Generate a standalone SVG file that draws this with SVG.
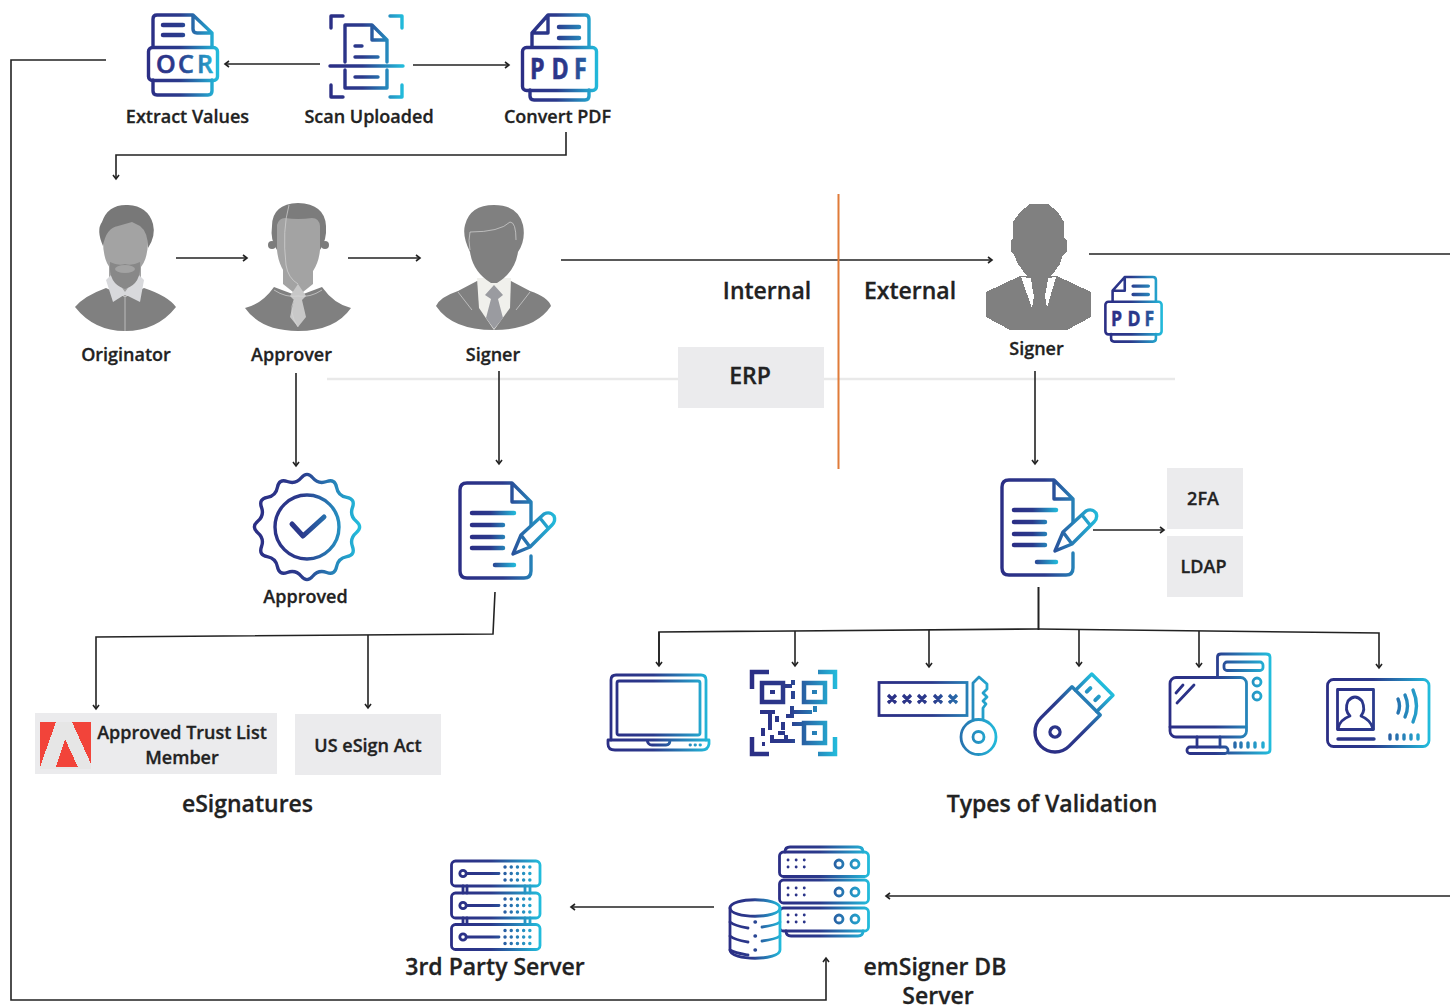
<svg xmlns="http://www.w3.org/2000/svg" width="1450" height="1008" viewBox="0 0 1450 1008">
<style>
text{font-family:"Open Sans","Liberation Sans",sans-serif;font-weight:600;fill:#222;stroke:#222;stroke-width:.3;text-anchor:middle}
.s{font-size:18px}.m{font-size:23px}.b{font-size:18px}
.c{fill:none;stroke:#222;stroke-width:1.600}
.i{fill:none;stroke-width:3.400;stroke-linecap:round;stroke-linejoin:round}
.t{fill:none;stroke-width:2.800;stroke-linecap:round;stroke-linejoin:round}
.box{fill:#ebebed}
.g{fill:#808080}.f{fill:#a3a3a3}.w{fill:none;stroke:#d5d5d5;stroke-width:.7}
.icontext{font-weight:700;text-anchor:start;stroke-width:.6}
</style>
<defs>
<linearGradient id="gb"><stop offset="0" stop-color="#2b2e85"/><stop offset=".45" stop-color="#2b3a8c"/><stop offset="1" stop-color="#22bcdc"/></linearGradient>
<linearGradient id="g0" href="#gb" gradientUnits="userSpaceOnUse" x1="148" x2="218" y1="0" y2="0"/>
<linearGradient id="g1" href="#gb" gradientUnits="userSpaceOnUse" x1="329" x2="403" y1="0" y2="0"/>
<linearGradient id="g2" href="#gb" gradientUnits="userSpaceOnUse" x1="522" x2="598" y1="0" y2="0"/>
<linearGradient id="gp" href="#gb" gradientUnits="userSpaceOnUse" x1="-10" x2="120" y1="0" y2="0"/>
<linearGradient id="g3" href="#gb" gradientUnits="userSpaceOnUse" x1="-52" x2="52" y1="0" y2="0"/>
<linearGradient id="g4" href="#gb" gradientUnits="userSpaceOnUse" x1="459" x2="556" y1="0" y2="0"/>
<linearGradient id="gl" href="#gb" gradientUnits="userSpaceOnUse" x1="470" x2="516" y1="0" y2="0"/>
<linearGradient id="g5" href="#gb" gradientUnits="userSpaceOnUse" x1="607" x2="710" y1="0" y2="0"/>
<linearGradient id="g6" href="#gb" gradientUnits="userSpaceOnUse" x1="750" x2="837" y1="0" y2="0"/>
<linearGradient id="g7" href="#gb" gradientUnits="userSpaceOnUse" x1="878" x2="998" y1="0" y2="0"/>
<linearGradient id="g8" href="#gb" gradientUnits="userSpaceOnUse" x1="-20" x2="67" y1="0" y2="0"/>
<linearGradient id="g9" href="#gb" gradientUnits="userSpaceOnUse" x1="1170" x2="1270" y1="0" y2="0"/>
<linearGradient id="g10" href="#gb" gradientUnits="userSpaceOnUse" x1="1327" x2="1429" y1="0" y2="0"/>
<linearGradient id="g11" href="#gb" gradientUnits="userSpaceOnUse" x1="451" x2="540" y1="0" y2="0"/>
<linearGradient id="g12" href="#gb" gradientUnits="userSpaceOnUse" x1="779" x2="869" y1="0" y2="0"/>
<linearGradient id="g13" href="#gb" gradientUnits="userSpaceOnUse" x1="729" x2="781" y1="0" y2="0"/>
<marker id="a" viewBox="-6 -5 8 10" refX="0" refY="0" markerWidth="8" markerHeight="10" markerUnits="userSpaceOnUse" orient="auto"><path d="M-4,-3 L0,0 L-4,3" fill="none" stroke="#222" stroke-width="1.600"/></marker>
<g id="pdfIcon">
<path class="i" stroke="url(#g2)" d="M532,47 V33 L548,15 H585 Q589,15 589,19 V47 M548,15 V33 H532 M530,90 V96 Q530,100 534,100 H585 Q589,100 589,96 V90"/>
<rect class="i" stroke="url(#g2)" x="522.500" y="47.500" width="74" height="43" rx="4"/>
<path class="i" stroke="url(#g2)" style="stroke-width:4.500" d="M559,27 H579 M559,38 H579"/>
<text class="icontext" transform="translate(530,79) scale(.8,1)" x="0 27 55" y="0" style="font-size:29px;fill:url(#gp);stroke:url(#gp)">PDF</text>
</g>
<g id="signIcon">
<path class="i" stroke="url(#g4)" d="M512,483 H467 Q460,483 460,490 V571 Q460,578 467,578 H524 Q531,578 531,571 V556 M531,525 V502 L512,483 V502 H531"/>
<path class="i" stroke="url(#gl)" style="stroke-width:4.500" d="M472,513 H514 M472,525 H503 M472,537 H503 M472,548 H503 M495,565 H514"/>
<path class="i" stroke="url(#g4)" d="M513,554 L521,535 L544,514 Q550,511 554,516 Q556,521 552,525 L530,547 Z M521,535 L530,547 M540,518 L548,528"/>
</g>
</defs>

<g id="connectors">
<path class="c" d="M106,60 H11 V1000 H826 V958" marker-end="url(#a)"/>
<path class="c" d="M320,64 H225" marker-end="url(#a)"/>
<path class="c" d="M413,65 H509" marker-end="url(#a)"/>
<path class="c" d="M566,132 V155 H116 V179" marker-end="url(#a)"/>
<path class="c" d="M176,258 H247" marker-end="url(#a)"/>
<path class="c" d="M348,258 H420" marker-end="url(#a)"/>
<path class="c" d="M561,260 H992" marker-end="url(#a)"/>
<path class="c" d="M1089,254 H1450"/>
<path d="M327,379 H678 M824,379 H1175" fill="none" stroke="#e9e9e9" stroke-width="2.500"/>
<path d="M838.500,194 V469" fill="none" stroke="#e07b39" stroke-width="2"/>
<path class="c" d="M296,373 V466" marker-end="url(#a)"/>
<path class="c" d="M499,371 V464" marker-end="url(#a)"/>
<path class="c" d="M1035,371 V464" marker-end="url(#a)"/>
<path class="c" d="M1093,530 H1164" marker-end="url(#a)"/>
<path class="c" d="M1038.500,587 V630" style="stroke-width:2"/>
<path class="c" d="M659,666 V632 L1038,629 L1379,633 V668" marker-end="url(#a)"/>
<path class="c" d="M659,632 V666" marker-end="url(#a)"/>
<path class="c" d="M795,631 V666" marker-end="url(#a)"/>
<path class="c" d="M929,630 V667" marker-end="url(#a)"/>
<path class="c" d="M1079,630 V666" marker-end="url(#a)"/>
<path class="c" d="M1199,631 V667" marker-end="url(#a)"/>
<path class="c" d="M495,592 L493,634 L96,637 V709" marker-end="url(#a)"/>
<path class="c" d="M368,635 V708" marker-end="url(#a)"/>
<path class="c" d="M714,907 H571" marker-end="url(#a)"/>
<path class="c" d="M1450,896 H886" marker-end="url(#a)"/>
</g>

<g id="extract-values">
<path class="i" stroke="url(#g0)" d="M153,47 V19 Q153,15 157,15 H193 L212,33 V47 M193,15 V29 Q193,33 197,33 H212 M153,80 V91 Q153,95 157,95 H208 Q212,95 212,91 V80"/>
<rect class="i" stroke="url(#g0)" x="148.500" y="47.500" width="69" height="33" rx="4"/>
<path class="i" stroke="url(#g0)" style="stroke-width:4.500" d="M163,25 H183 M163,35 H183"/>
<text class="icontext" x="156 178 197" y="73" style="font-size:25px;font-weight:600;fill:url(#g0);stroke:url(#g0)">OCR</text>
<text class="s" x="187.500" y="123">Extract Values</text>
</g>
<g id="scan-uploaded">
<path class="i" stroke="url(#g1)" d="M331,28 V16 H343 M390,16 H402 V28 M331,85 V97 H343 M390,97 H402 V85"/>
<path class="i" stroke="url(#g1)" d="M345,62 V25 H372 L387,40 V62 M345,70 V88 H387 V70 M372,25 V40 H387"/>
<path class="i" stroke="url(#g1)" d="M330,66 H403 M355,46 H362 M355,57 H378 M355,77 H378"/>
<text class="s" x="369" y="123">Scan Uploaded</text>
</g>
<g id="convert-pdf">
<use href="#pdfIcon"/>
<text class="s" x="557.500" y="123">Convert PDF</text>
</g>

<g id="originator">
<path class="g" d="M75,307 Q84,296 106,288 L125,297 L144,288 Q168,296 176,307 Q157,331 125,331 Q94,331 75,307 Z"/>
<path class="f" d="M109,258 V282 L125,297 L141,282 V258 Z"/>
<path d="M106,280 L112,274 L125,292 L138,274 L144,280 L140,302 L126,295 L124,295 L113,302 Z" fill="#d8d9dc"/>
<path class="f" d="M103,240 Q102,222 125,220 Q148,222 148,240 Q148,262 138,270 H112 Q103,262 103,240 Z"/>
<path fill="#888" d="M110,262 Q118,266 125,264 Q132,266 140,262 Q142,284 125,289 Q108,284 110,262 Z"/>
<ellipse cx="125" cy="269" rx="10" ry="4" fill="#a3a3a3"/>
<path fill="#787878" d="M103,246 Q96,230 102,222 Q108,204 128,205 Q148,206 153,224 Q156,236 148,248 Q148,232 140,226 L132,222 L118,226 Q106,228 103,246 Z"/>
<path class="w" d="M125,297 V331"/>
<text class="s" x="126" y="361">Originator</text>
</g>
<g id="approver">
<path class="g" d="M245,308 Q262,304 274,287 L298,296 L322,287 Q334,304 351,308 Q335,331 298,331 Q261,331 245,308 Z"/>
<path class="f" d="M283,262 V284 L298,296 L313,284 V262 Z"/>
<path fill="#7c7c7c" d="M277,250 Q270,240 272,226 Q272,204 298,203 Q325,204 326,226 Q327,240 320,250 Z"/>
<circle fill="#7c7c7c" cx="272" cy="245" r="4"/><circle fill="#7c7c7c" cx="325" cy="245" r="4"/>
<path class="f" d="M277,225 Q279,218 285,218 Q298,220 312,218 Q319,218 320,226 V250 Q318,272 300,284 H296 Q279,272 277,250 Z"/>
<path fill="#c8c8c8" d="M298,284 L306,296 L302,300 L306,317 L298,327 L290,317 L294,300 L290,296 Z"/>
<path class="w" d="M289,205 Q282,230 286,265 Q288,278 298,284 M274,290 Q286,298 298,296 Q310,298 322,290 M294,300 Q288,312 298,327"/>
<text class="s" x="291.500" y="361">Approver</text>
</g>
<g id="signer">
<path class="g" d="M436,306 Q440,297 458,291 L477,281 H511 L530,291 Q548,297 551,306 Q535,330 494,330 Q452,330 436,306 Z"/>
<path d="M477,278 H511 L510,308 L494,330 L479,308 Z" fill="#f0f0ec"/>
<path fill="#9a9ba0" d="M494,285 L503,295 L498,299 L503,318 L494,329 L486,318 L491,299 L485,295 Z"/>
<path class="g" d="M470,252 Q462,236 465,225 Q470,205 494,205 Q518,205 523,225 Q526,240 518,252 Q515,272 497,283 H491 Q473,272 470,252 Z"/>
<path class="w" d="M470,232 Q500,232 510,222 Q516,222 516,240 M470,232 Q468,240 470,250 M472,310 L458,292 M516,310 L530,292"/>
<text class="s" x="493" y="361">Signer</text>
</g>
<g id="external-signer" shape-rendering="crispEdges">
<path class="g" d="M1013,222 L1020,212 L1030,204 H1048 L1058,212 L1064,222 V238 L1067,241 V252 L1063,255 L1060,264 L1052,275 L1045,279 H1033 L1026,275 L1018,264 L1014,255 L1011,252 V241 L1013,238 Z"/>
<path class="g" d="M986,292 L1020,276 H1057 L1091,292 V317 L1067,330 H1010 L986,317 Z"/>
<path d="M1021,277 L1032,308 L1034,296 L1032,286 L1031,278 Z M1056,277 L1047,308 L1045,296 L1047,286 L1048,278 Z" fill="#fff"/>
<text class="s" x="1036.500" y="355">Signer</text>
</g>
<g id="external-pdf"><use href="#pdfIcon" transform="translate(1105,277) scale(.76) translate(-522,-15)"/></g>

<text class="m" x="767" y="299">Internal</text>
<text class="m" x="910" y="299">External</text>
<g id="erp"><rect class="box" x="678" y="347" width="146" height="61"/><text class="m" x="750" y="384">ERP</text></g>

<g id="approved">
<g transform="translate(307,527)">
<path class="i" stroke="url(#g3)" d="M49.250,-5.700 Q56,0 49.250,5.700 T45.500,19.700 T39.800,29.550 T29.550,39.800 T19.700,45.500 T5.700,49.250 T-5.700,49.250 T-19.700,45.500 T-29.550,39.800 T-39.800,29.550 T-45.500,19.700 T-49.250,5.700 T-49.250,-5.700 T-45.500,-19.700 T-39.800,-29.550 T-29.550,-39.800 T-19.700,-45.500 T-5.700,-49.250 T5.700,-49.250 T19.700,-45.500 T29.550,-39.800 T39.800,-29.550 T45.500,-19.700 T49.250,-5.700 Z"/>
<circle class="i" stroke="url(#g3)" r="32"/>
<path class="i" stroke="url(#g3)" style="stroke-width:5" d="M-15,-3 L-4,9 L17,-10"/>
</g>
<text class="s" x="305.500" y="603">Approved</text>
</g>
<g id="sign-internal"><use href="#signIcon"/></g>
<g id="sign-external"><use href="#signIcon" transform="translate(542,-3)"/></g>
<g id="twofa"><rect class="box" x="1167" y="468" width="76" height="61"/><text class="b" x="1203" y="505">2FA</text></g>
<g id="ldap"><rect class="box" x="1167" y="536" width="76" height="61"/><text class="b" x="1203.500" y="573">LDAP</text></g>

<g id="trust-list">
<rect class="box" x="35" y="713" width="242" height="61"/>
<g shape-rendering="crispEdges">
<rect x="40" y="722" width="51" height="47" fill="#e6e6e6"/>
<path fill="#f2443a" d="M40,722 H56 L40,767 Z M72,722 H91 V764 Z M65,739 L78,767 H56 Z"/>
</g>
<text class="s" x="182" y="739">Approved Trust List</text>
<text class="s" x="182" y="764">Member</text>
</g>
<g id="us-esign"><rect class="box" x="295" y="714" width="146" height="61"/><text class="s" x="368" y="752">US eSign Act</text></g>
<text class="m" x="247.500" y="812">eSignatures</text>

<g id="laptop">
<path class="t" stroke="url(#g5)" d="M611,740 V680 Q611,675 616,675 H701 Q706,675 706,680 V740"/>
<rect class="t" stroke="url(#g5)" x="617" y="681" width="83" height="54" rx="2"/>
<path class="t" stroke="url(#g5)" d="M608,740 H709 V744 Q708,750 702,750 H615 Q608,750 608,744 Z M647,740 Q648,745 652,745 H666 Q670,745 670,740"/>
<path class="t" stroke="url(#g5)" d="M690,745 H690.500 M695,745 H695.500 M700,745 H700.500"/>
</g>
<g id="qr">
<path fill="none" stroke="url(#g6)" stroke-width="4.500" d="M769,672 H752 V689 M818,672 H835 V689 M752,737 V754 H769 M835,737 V754 H818"/>
<path fill="none" stroke="url(#g6)" stroke-width="4.500" d="M762,683 H783 V702 H762 Z M804,683 H825 V702 H804 Z M804,723 H825 V743 H804 Z"/>
<path fill="none" stroke="url(#g6)" stroke-width="4" d="M770,692 H775 M812,692 H817 M812,733 H817 M785,686 H792 M793,680 V685 M793,691 V699 M792,706 V712 H812 M815,706 V712 M760,712 H775 M770,712 V730 M763,728 V736 M777,716 V722 M783,722 V730 M786,716 H794 M792,724 H804 M772,735 V741 H795 M762,744 H765 M786,735 V741 M803,712 H807 M778,733 H785"/>
</g>
<g id="password-key">
<rect x="879" y="682.500" width="88" height="33" fill="none" stroke="url(#g7)" stroke-width="2.800"/>
<path fill="none" stroke="url(#g7)" stroke-width="3.200" d="M888,695 L896,703 M896,695 L888,703 M903,695 L911,703 M911,695 L903,703 M918,695 L926,703 M926,695 L918,703 M934,695 L942,703 M942,695 L934,703 M949,695 L957,703 M957,695 L949,703"/>
<path class="t" stroke="url(#g7)" d="M973,719 V683 L979,677 L987,684 V689 L983,693 L987,697 L983,701 L986,704 L983,708 V719"/>
<circle class="t" stroke="url(#g7)" cx="978.500" cy="737" r="17.500"/>
<circle class="t" stroke="url(#g7)" cx="978.500" cy="737" r="5.500"/>
</g>
<g id="usb" transform="translate(1055,732) rotate(-45)">
<path class="i" stroke="url(#g8)" d="M44,-20 H0 A20,20 0 0 0 0,20 H44 Z"/>
<path class="i" stroke="url(#g8)" d="M44,-15 H67 V15 H44"/>
<circle class="i" stroke="url(#g8)" r="5"/>
<path class="i" stroke="url(#g8)" d="M51,-6 H56 M51,6 H56" style="stroke-width:4"/>
</g>
<g id="computer">
<path class="t" stroke="url(#g9)" d="M1217.500,677 V657 Q1217.500,654 1221,654 H1266 Q1270,654 1270,657 V750 Q1270,753 1266,753 H1228"/>
<rect class="t" stroke="url(#g9)" x="1224" y="662" width="39" height="8.500" rx="3"/>
<circle class="t" stroke="url(#g9)" cx="1257" cy="682" r="4"/><circle class="t" stroke="url(#g9)" cx="1257" cy="696" r="4"/>
<rect class="t" stroke="url(#g9)" x="1170" y="677.500" width="76.500" height="59.500" rx="6"/>
<path class="t" stroke="url(#g9)" d="M1170,727 H1246 M1197,737 V747 M1220,737 V747 M1176,693 L1183,685 M1177,703 L1194,685"/>
<rect class="t" stroke="url(#g9)" x="1187" y="747" width="41" height="6.500" rx="3"/>
<path class="t" stroke="url(#g9)" style="stroke-width:3.400" d="M1235,743 V747 M1241,743 V747 M1248,743 V747 M1255,743 V747 M1263,743 V747"/>
</g>
<g id="id-card">
<rect class="t" stroke="url(#g10)" x="1327.500" y="679.500" width="101.500" height="67" rx="6"/>
<rect class="t" stroke="url(#g10)" x="1337.500" y="689.500" width="36" height="40"/>
<path class="t" stroke="url(#g10)" d="M1338,729 Q1339,720 1350,716 Q1344,710 1348,701 Q1355,693 1362,701 Q1366,710 1361,716 Q1371,720 1373,729"/>
<path class="t" stroke="url(#g10)" style="stroke-width:3.400" d="M1338,739 H1374 M1398,699 Q1401,706 1398,713 M1405,695 Q1410,706 1405,717 M1413,690 Q1420,706 1413,722"/>
<path class="t" stroke="url(#g10)" style="stroke-width:3.400" d="M1390,735 V739 M1397,735 V739 M1404,735 V739 M1411,735 V739 M1418,735 V739"/>
</g>
<text class="m" x="1052" y="812">Types of Validation</text>

<g id="third-party-server">
<path class="t" stroke="url(#g11)" d="M463,886 V893 M467,886 V893 M525,886 V893 M530,886 V893 M463,918 V924 M467,918 V924 M525,918 V924 M530,918 V924"/>
<rect class="t" stroke="url(#g11)" x="451.500" y="861" width="88.500" height="25" rx="4"/>
<rect class="t" stroke="url(#g11)" x="451.500" y="893" width="88.500" height="25" rx="4"/>
<rect class="t" stroke="url(#g11)" x="451.500" y="924.500" width="88.500" height="25" rx="4"/>
<g fill="none" stroke="url(#g11)" stroke-width="2.800" stroke-linecap="round">
<path d="M467,873.500 H499 M467,905.500 H499 M467,937 H499"/>
<circle cx="463" cy="873.500" r="3.200"/><circle cx="463" cy="905.500" r="3.200"/><circle cx="463" cy="937" r="3.200"/>
<path stroke-width="3.400" stroke-dasharray=".1 6.100" d="M505,867 H531 M505,873.500 H531 M505,880 H531 M505,899 H531 M505,905.500 H531 M505,912 H531 M505,930.500 H531 M505,937 H531 M505,943.500 H531"/>
</g>
<text class="m" x="495" y="975">3rd Party Server</text>
</g>
<g id="db-server">
<path class="t" stroke="url(#g12)" d="M785,852 Q785,847 790,847 H858 Q863,847 863,852 M786,931 Q786,936 791,936 H858 Q863,936 863,931"/>
<rect class="t" stroke="url(#g12)" x="779.500" y="852" width="89" height="24.500" rx="4"/>
<rect class="t" stroke="url(#g12)" x="779.500" y="880" width="89" height="23" rx="4"/>
<rect class="t" stroke="url(#g12)" x="779.500" y="908" width="89" height="23" rx="4"/>
<g fill="none" stroke="url(#g12)" stroke-width="2.800" stroke-linecap="round">
<circle cx="839" cy="864" r="4"/><circle cx="855" cy="864" r="4"/><circle cx="839" cy="892" r="4"/><circle cx="855" cy="892" r="4"/><circle cx="839" cy="919" r="4"/><circle cx="855" cy="919" r="4"/>
<path stroke-dasharray=".1 8" d="M788,860 H805 M788,867 H805 M788,888 H805 M788,895 H805 M788,915 H805 M788,922 H805"/>
</g>
<path class="t" stroke="url(#g13)" style="fill:#fff" d="M730,908 C730,897 780,897 780,908 V950 C780,961 730,961 730,950 Z"/>
<path class="t" stroke="url(#g13)" d="M730,908 C730,919 780,919 780,908 M730,922 C735,926 742,927 748,928 M762,927 C770,926 776,925 780,922 M730,936 C735,940 742,941 748,942 M762,941 C770,940 776,939 780,936 M730,950 C735,953 742,954 748,955"/>
<path class="t" stroke="url(#g13)" style="stroke-width:3.400" d="M755,922 H755.500 M755,936 H755.500 M755,950 H755.500"/>
<text class="m" x="935" y="975">emSigner DB</text>
<text class="m" x="938" y="1004">Server</text>
</g>
</svg>
